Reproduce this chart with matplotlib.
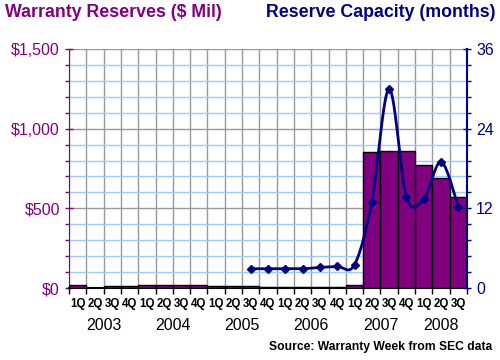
import numpy as np
import matplotlib
matplotlib.use("Agg")
import matplotlib.pyplot as plt
from matplotlib.ticker import MultipleLocator, FixedLocator, NullFormatter

# ---- data ----
quarters = ["1Q", "2Q", "3Q", "4Q"] * 5 + ["1Q", "2Q", "3Q"]
years = ["2003", "2004", "2005", "2006", "2007", "2008"]
reserves = [19, 3, 15, 15, 19, 19, 19, 19, 15, 15, 15, 8, 8, 8, 8, 8, 16,
            852, 860, 860, 770, 690, 571]
capacity_start = 10  # 2005 3Q
capacity = [2.9, 2.9, 2.9, 2.9, 3.1, 3.25, 3.5, 13.0, 30.0, 13.7, 13.4, 19.0, 12.2]

PURPLE = "#800080"
NAVY = "#000080"
plt.rcParams['font.family'] = ['Liberation Sans', 'DejaVu Sans']

fig = plt.figure(figsize=(5, 3.6), dpi=100)
ax = fig.add_axes([0.138, 0.2, 0.796, 0.664])
n = len(reserves)
x = np.arange(n)
ax.bar(x, reserves, width=1.0, color=PURPLE, edgecolor="black", linewidth=1.0, zorder=3)
ax.set_xlim(-0.5, n - 0.5)
ax.set_ylim(0, 1500)
ax.set_axisbelow(True)

# gridlines
ax.yaxis.set_major_locator(MultipleLocator(500))
ax.yaxis.set_minor_locator(MultipleLocator(100))
ax.grid(which="minor", axis="y", color="#99CCFF", linewidth=1.0, zorder=0)
ax.grid(which="major", axis="y", color="#999999", linewidth=1.0, zorder=0)
ax.xaxis.set_major_locator(FixedLocator(np.arange(-0.5, n, 1.0)))
ax.grid(which="major", axis="x", color="#999999", linewidth=1.0, zorder=0)
ax.xaxis.set_major_formatter(NullFormatter())
ax.set_yticks([0, 500, 1000, 1500])
ax.set_yticklabels(["$0", "$500", "$1,000", "$1,500"], color=PURPLE, fontsize=11.5)
ax.tick_params(axis="y", which="major", length=6, color=PURPLE, direction="inout", width=1)
ax.tick_params(axis="y", which="minor", length=3, color=PURPLE, direction="out", width=1)
ax.tick_params(axis="x", which="major", length=4, color="black", direction="out", width=1)

for s in ["top", "right"]:
    ax.spines[s].set_visible(False)
ax.spines["left"].set_color(PURPLE)
ax.spines["bottom"].set_color("black")
ax.spines["bottom"].set_linewidth(1.5)

# quarter labels
for i, q in enumerate(quarters):
    ax.text(i, -0.04, q, transform=ax.get_xaxis_transform(), ha="center", va="top",
            fontsize=8.3, fontweight="bold")
# year labels
for k, yl in enumerate(years):
    start = 4 * k
    end = min(start + 4, n)
    ax.text((start + end - 1) / 2, -0.125, yl, transform=ax.get_xaxis_transform(),
            ha="center", va="top", fontsize=11.5)

# right axis
ax2 = ax.twinx()
ax2.set_ylim(0, 36)
ax2.set_xlim(-0.5, n - 0.5)
ax2.yaxis.set_major_locator(FixedLocator([0, 12, 24, 36]))
ax2.yaxis.set_minor_locator(MultipleLocator(2.4))
ax2.tick_params(axis="y", which="major", length=6, color=NAVY, direction="inout",
                labelcolor=NAVY, labelsize=11.5, width=1)
ax2.tick_params(axis="y", which="minor", length=3, color=NAVY, direction="out", width=1)
for s in ["top", "left", "bottom"]:
    ax2.spines[s].set_visible(False)
ax2.spines["right"].set_color(NAVY)
ax2.spines["right"].set_linewidth(1.5)

# smoothed line (Catmull-Rom through the data points)
cx = np.arange(capacity_start, capacity_start + len(capacity), dtype=float)
cy = np.array(capacity, dtype=float)
px = np.concatenate([[cx[0]], cx, [cx[-1]]])
py = np.concatenate([[cy[0]], cy, [cy[-1]]])
sx, sy = [], []
t = np.linspace(0, 1, 30)
for i in range(1, len(px) - 2):
    p0, p1, p2, p3 = py[i - 1], py[i], py[i + 1], py[i + 2]
    x0, x1, x2, x3 = px[i - 1], px[i], px[i + 1], px[i + 2]
    m1y, m2y = (p2 - p0) / 2, (p3 - p1) / 2
    m1x, m2x = (x2 - x0) / 2, (x3 - x1) / 2
    h00 = 2 * t**3 - 3 * t**2 + 1
    h10 = t**3 - 2 * t**2 + t
    h01 = -2 * t**3 + 3 * t**2
    h11 = t**3 - t**2
    sx.extend(h00 * x1 + h10 * m1x + h01 * x2 + h11 * m2x)
    sy.extend(h00 * p1 + h10 * m1y + h01 * p2 + h11 * m2y)
ax2.plot(sx, sy, color=NAVY, linewidth=2, zorder=4)
ax2.plot(cx, cy, linestyle="none", marker="D", markersize=4.5, color=NAVY, zorder=5)

# titles
fig.text(0.01, 0.965, "Warranty Reserves ($ Mil)", color=PURPLE, fontsize=12.8,
         fontweight="bold", ha="left", va="center")
fig.text(0.99, 0.965, "Reserve Capacity (months)", color=NAVY, fontsize=12.8,
         fontweight="bold", ha="right", va="center")
fig.text(0.985, 0.035, "Source: Warranty Week from SEC data", color="black", fontsize=8.7,
         fontweight="bold", ha="right", va="center")

fig.savefig("out.png", dpi=100)
